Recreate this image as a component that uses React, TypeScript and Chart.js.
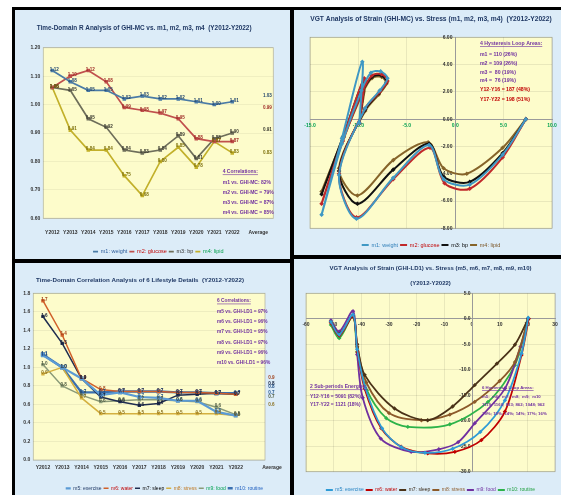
import { useEffect, useRef } from "react";
import { Chart, registerables } from "chart.js";

Chart.register(...registerables);

const FONT = "'Liberation Sans Narrow', 'Liberation Sans', 'DejaVu Sans Condensed', sans-serif";
const PANEL_BG = "#dcecf8";
const PLOT_BG = "#fdfccb";
const PLOT_BORDER = "#b9b9a0";
const TITLE_COLOR = "#1f3864";
const NOTE_PURPLE = "#7030a0";
const NOTE_RED = "#c00000";

// ---------------- Panel 1: Time-Domain R Analysis ----------------
const YEARS = ["Y2012", "Y2013", "Y2014", "Y2015", "Y2016", "Y2017", "Y2018", "Y2019", "Y2020", "Y2021", "Y2022"];
const AVERAGE_LABEL = "Average";
const P1_TITLE = "Time-Domain R Analysis of GHI-MC vs. m1, m2, m3, m4  (Y2012-Y2022)";
const P1_NAMES = ["m1: weight", "m2: glucose", "m3: bp", "m4: lipid"];
const M1_WEIGHT = [1.12, 1.08, 1.05, 1.05, 1.02, 1.03, 1.02, 1.02, 1.01, 1.0, 1.01];
const M2_GLUCOSE = [1.06, 1.1, 1.12, 1.08, 0.99, 0.98, 0.97, 0.95, 0.88, 0.87, 0.87];
const M3_BP = [1.06, 1.05, 0.95, 0.92, 0.84, 0.83, 0.84, 0.89, 0.81, 0.88, 0.9];
const M4_LIPID = [1.06, 0.91, 0.84, 0.84, 0.75, 0.68, 0.8, 0.85, 0.78, 0.87, 0.83];
const P1_AVERAGES = [1.03, 0.99, 0.91, 0.83];
const P1_COLORS = ["#4a7ba6", "#c0504d", "#6e6e5a", "#c2b02a"];
const P1_LABEL_COLORS = ["#24476e", "#9e2a26", "#3a3a30", "#7d700c"];
const P1_LEGEND_TEXT = ["#2e5c9a", "#c00000", "#333333", "#00a04a"];
const P1_NOTES = ["4 Correlations:", "m1 vs. GHI-MC: 82%", "m2 vs. GHI-MC = 79%", "m3 vs. GHI-MC = 87%", "m4 vs. GHI-MC = 85%"];

// ---------------- Panel 2: VGT GHI-MC ----------------
const P2_TITLE = "VGT Analysis of Strain (GHI-MC) vs. Stress (m1, m2, m3, m4)  (Y2012-Y2022)";
const M1_VGT: [number, number][] = [[-9.9, -0.3], [-9.6, 4.2], [-11.7, -1.4], [-13.8, -7.0], [-11.7, -1.8], [-9.7, 2.1], [-8.7, 3.4], [-7.7, 3.5], [-7.0, 3.0], [-7.8, 2.1], [-9.3, 0.8], [-12.0, -4.1], [-10.2, -7.3], [-6.4, -4.3], [-2.7, -1.9], [-1.2, -4.4], [1.5, -4.8], [4.9, -2.6], [7.3, 0.0]];
const M2_VGT: [number, number][] = [[-9.9, -0.3], [-9.4, 3.0], [-11.6, -1.4], [-13.8, -6.2], [-11.6, -1.6], [-9.6, 2.0], [-8.6, 3.2], [-7.6, 3.3], [-7.0, 2.8], [-7.8, 2.0], [-9.3, 0.8], [-12.0, -4.0], [-10.2, -7.2], [-6.4, -4.4], [-2.6, -2.1], [-1.1, -4.7], [1.5, -5.1], [4.9, -2.8], [7.3, 0.0]];
const M3_VGT: [number, number][] = [[-9.9, -0.3], [-9.4, 2.9], [-11.6, -1.3], [-13.8, -5.5], [-11.6, -1.4], [-9.6, 2.0], [-8.6, 3.1], [-7.6, 3.2], [-7.1, 2.7], [-7.9, 1.9], [-9.3, 0.7], [-12.0, -3.8], [-10.1, -6.2], [-6.4, -3.7], [-2.7, -1.8], [-1.2, -4.2], [1.5, -4.6], [4.9, -2.5], [7.3, 0.0]];
const M4_VGT: [number, number][] = [[-9.9, -0.3], [-9.3, 2.8], [-11.5, -1.2], [-13.8, -5.3], [-11.5, -1.3], [-9.5, 2.0], [-8.6, 3.0], [-7.6, 3.1], [-7.1, 2.6], [-7.9, 1.8], [-9.3, 0.6], [-12.0, -3.6], [-10.1, -5.6], [-6.4, -3.0], [-2.8, -1.7], [-1.2, -3.6], [1.2, -4.0], [4.9, -2.1], [7.3, 0.0]];
const P2_COLORS = ["#3f98c4", "#c0282a", "#111111", "#86642a"];
const P2_LEGEND_TEXT = ["#2f7fb8", "#c00000", "#000000", "#7a5424"];
const P2_NOTES = ["4 Hysteresis Loop Areas:", "m1 = 110 (26%)", "m2 = 109 (26%)", "m3 =  80 (19%)", "m4 =  76 (19%)", "Y12-Y16 = 187 (48%)", "Y17-Y22 = 198 (51%)"];

// ---------------- Panel 3: Lifestyle correlation ----------------
const P3_TITLE = "Time-Domain Correlation Analysis of 6 Lifestyle Details  (Y2012-Y2022)";
const P3_NAMES = ["m5: exercise", "m6: water", "m7: sleep", "m8: stress", "m9: food", "m10: routine"];
const M5_EXERCISE = [1.13, 1.0, 0.88, 0.7, 0.73, 0.68, 0.67, 0.64, 0.64, 0.52, 0.48];
const M6_WATER = [1.72, 1.35, 0.88, 0.76, 0.74, 0.74, 0.74, 0.73, 0.73, 0.72, 0.71];
const M7_SLEEP = [1.55, 1.26, 0.88, 0.68, 0.63, 0.59, 0.61, 0.7, 0.71, 0.72, 0.71];
const M8_STRESS = [0.93, 1.0, 0.67, 0.5, 0.5, 0.5, 0.5, 0.5, 0.5, 0.5, 0.48];
const M9_FOOD = [1.03, 0.8, 0.7, 0.63, 0.64, 0.65, 0.65, 0.64, 0.63, 0.57, 0.49];
const M10_ROUTINE = [1.14, 1.0, 0.73, 0.73, 0.74, 0.74, 0.74, 0.73, 0.73, 0.72, 0.72];
const P3_AVERAGES = [0.73, 0.89, 0.82, 0.6, 0.68, 0.79];
const P3_COLORS = ["#5b9bd5", "#d0602a", "#1f2d50", "#d4b040", "#8a9a78", "#3a70b0"];
const P3_WIDTHS = [2.2, 1.5, 1.5, 1.5, 1.5, 2.4];
const P3_LABEL_COLORS = ["#2a5a90", "#a0401a", "#111a33", "#8a7020", "#4d5a40", "#1e4a80"];
const P3_LEGEND_TEXT = ["#1f3864", "#c00000", "#000000", "#c07820", "#00a050", "#2060c0"];
const P3_NOTES = ["6 Correlations:", "m5 vs. GHI-LD1 = 97%", "m6 vs. GHI-LD1 = 96%", "m7 vs. GHI-LD1 = 95%", "m8 vs. GHI-LD1 = 97%", "m9 vs. GHI-LD1 = 96%", "m10 vs. GHI-LD1 = 96%"];

// ---------------- Panel 4: VGT GHI-LD1 ----------------
const P4_TITLE = ["VGT Analysis of Strain (GHI-LD1) vs. Stress (m5, m6, m7, m8, m9, m10)", "(Y2012-Y2022)"];
const M5_VGT: [number, number][] = [[-51, -0.6], [-48, -3.1], [-43, 0.8], [-41.5, -6], [-38.6, -13.5], [-32.5, -21.5], [-25.5, -25.2], [-17, -26.3], [-7, -25.5], [3, -22.2], [11.9, -16], [17.9, -6.8], [20.3, 0.2]];
const M6_VGT: [number, number][] = [[-51, -0.8], [-48, -3.3], [-43, 0.6], [-41.4, -6.5], [-38.8, -13.7], [-32.8, -21.5], [-25.6, -25.1], [-16, -26.4], [-6.2, -26.1], [3.4, -23.8], [11.9, -18.2], [17.9, -7.1], [20.5, 0.0]];
const M7_VGT: [number, number][] = [[-51, -0.6], [-48, -3.0], [-43, 0.5], [-41.5, -5.0], [-38.8, -11.0], [-28, -17.6], [-16, -19.9], [-7, -17.2], [1, -13.0], [9, -8.8], [15.5, -5.1], [20.3, 0.0]];
const M8_VGT: [number, number][] = [[-51, -0.7], [-48, -3.2], [-43, 0.4], [-41.5, -5.5], [-38.2, -12.5], [-30, -18.5], [-18.3, -19.9], [-8, -18.8], [1, -16.3], [10, -12.2], [15.5, -8.5], [20.3, 0.0]];
const M9_VGT: [number, number][] = [[-51, -0.3], [-48, -2.5], [-43, 1.5], [-41.5, -7.0], [-39.5, -15.5], [-33, -23.5], [-22, -26.1], [-12, -25.6], [-5, -24.2], [1, -20.5], [11.9, -13.7], [17.5, -5.5], [20.3, 0.0]];
const M10_VGT: [number, number][] = [[-51, -1.2], [-48, -3.8], [-43, 0.6], [-41.5, -6.5], [-38, -14.0], [-31, -19.5], [-23.2, -21.2], [-8, -20.7], [5.8, -16.3], [15.5, -9.1], [20.3, 0.0]];
const P4_COLORS = ["#2e9bd6", "#c00000", "#4a3218", "#8c5a2a", "#7030a0", "#2db34a"];
const P4_LEGEND_TEXT = ["#1f7fc0", "#c00000", "#3a2a18", "#8c5a2a", "#7030a0", "#20a040"];
const P4_NOTES_LEFT = ["2 Sub-periods Energies:", "Y12-Y16 = 5091 (82%)", "Y17-Y22 = 1121 (18%)"];
const P4_NOTES_RIGHT = ["6 Hysteresis Loop Areas:", "m5;  m6;  m7;  m8;  m9;  m10", "1119; 1160; 833; 862; 1048; 962", "19%; 19%; 14%; 14%; 17%; 16%"];

// ---------------- helpers & plugins ----------------
const tickFont = { family: FONT, size: 5, weight: "bold" as const };

const xyFrom = (values: number[]) => values.map((y, i) => ({ x: i, y }));
const xyPairs = (pairs: [number, number][]) => pairs.map(([x, y]) => ({ x, y }));

const fixX = (h: number) => (s: any) => {
  s.height = h;
  s.paddingLeft = 0;
  s.paddingRight = 0;
};
const fixY = (w: number) => (s: any) => {
  s.width = w;
  s.paddingTop = 0;
  s.paddingBottom = 0;
};

const plotBgPlugin = {
  id: "plotBg",
  beforeDraw(chart: any) {
    const { ctx, chartArea: a } = chart;
    ctx.save();
    ctx.fillStyle = PLOT_BG;
    ctx.fillRect(a.left, a.top, a.right - a.left, a.bottom - a.top);
    ctx.strokeStyle = PLOT_BORDER;
    ctx.lineWidth = 0.8;
    ctx.strokeRect(a.left, a.top, a.right - a.left, a.bottom - a.top);
    ctx.restore();
  },
};

const valueLabelPlugin = {
  id: "valueLabels",
  afterDatasetsDraw(chart: any, _args: any, opts: any) {
    const { ctx } = chart;
    ctx.save();
    ctx.font = `bold ${opts.size}px ${FONT}`;
    ctx.textAlign = "center";
    ctx.textBaseline = "middle";
    chart.data.datasets.forEach((ds: any, i: number) => {
      const meta = chart.getDatasetMeta(i);
      ctx.fillStyle = opts.colors[i];
      meta.data.forEach((pt: any, j: number) => {
        ctx.fillText(Number(ds.data[j].y).toFixed(opts.decimals), pt.x + opts.dx, pt.y + opts.dy);
      });
    });
    const xs = chart.scales.x;
    const ys = chart.scales.y;
    (opts.averages as number[]).forEach((v, i) => {
      ctx.fillStyle = opts.colors[i];
      ctx.fillText(v.toFixed(opts.decimals), xs.getPixelForValue(opts.avgX), ys.getPixelForValue(v));
    });
    ctx.restore();
  },
};

const notesPlugin = {
  id: "notes",
  afterDraw(chart: any, _args: any, opts: any) {
    const { ctx } = chart;
    ctx.save();
    ctx.textBaseline = "middle";
    ctx.textAlign = "left";
    for (const b of opts.blocks) {
      ctx.font = `bold ${b.size}px ${FONT}`;
      b.lines.forEach((text: string, k: number) => {
        const y = b.ys[k];
        ctx.fillStyle = b.colors ? b.colors[k] : NOTE_PURPLE;
        ctx.fillText(text, b.x, y);
        if (k === 0) {
          const w = ctx.measureText(text).width;
          ctx.fillRect(b.x, y + b.size * 0.55, w, 0.6);
        }
      });
    }
    ctx.restore();
  },
};

function legendOptions(textColors: string[], o: any) {
  return {
    position: "bottom",
    align: o.align || "center",
    fullSize: o.fullSize !== undefined ? o.fullSize : true,
    maxHeight: o.maxHeight,
    title: o.spacer ? { display: true, text: "", font: { size: 1 }, padding: { top: o.spacer, bottom: 0 } } : { display: false },
    labels: {
      usePointStyle: true,
      pointStyle: "line",
      pointStyleWidth: o.lineW || 5,
      padding: o.padding,
      font: { family: FONT, size: o.size || 5.5, weight: "normal" },
      generateLabels: (chart: any) => {
        const items = (Chart.defaults.plugins.legend.labels as any).generateLabels(chart);
        items.forEach((it: any, i: number) => {
          it.fontColor = textColors[i];
          it.pointStyle = "line";
        });
        return items;
      },
    },
  };
}

const yearTicks = (avgX: number) => YEARS.map((_, i) => ({ value: i })).concat([{ value: avgX }]);
const yearLabel = (avgX: number) => (v: any) => {
  const n = Number(v);
  if (Math.abs(n - avgX) < 1e-6) return AVERAGE_LABEL;
  return YEARS[Math.round(n)] ?? "";
};

// ---------------- configs ----------------
const P1_AVG_X = 11.45;
function panel1Config(): any {
  const series = [M1_WEIGHT, M2_GLUCOSE, M3_BP, M4_LIPID];
  return {
    type: "line",
    data: {
      datasets: series.map((vals, i) => ({
        label: P1_NAMES[i],
        data: xyFrom(vals),
        borderColor: P1_COLORS[i],
        backgroundColor: P1_COLORS[i],
        borderWidth: 1.7,
        pointRadius: 1.3,
        pointStyle: "rect",
        tension: 0,
      })),
    },
    options: {
      animation: false,
      responsive: false,
      events: [],
      layout: { padding: { left: 0, right: 16.7, top: 0, bottom: 0 } },
      scales: {
        x: {
          type: "linear",
          min: -0.5,
          max: 12.28,
          grid: { display: false, drawTicks: false },
          border: { display: false },
          ticks: { autoSkip: false, maxRotation: 0, padding: 11.7, font: tickFont, color: "#333", callback: yearLabel(P1_AVG_X) },
          afterBuildTicks: (s: any) => {
            s.ticks = yearTicks(P1_AVG_X);
          },
          afterFit: fixX(28.65),
        },
        y: {
          type: "linear",
          min: 0.6,
          max: 1.2,
          ticks: { stepSize: 0.1, padding: 3, font: tickFont, color: "#333", callback: (v: any) => Number(v).toFixed(2) },
          grid: { color: "rgba(0,0,0,0.05)", drawTicks: false },
          border: { display: false },
          afterFit: fixY(28.3),
        },
      },
      plugins: {
        title: { display: true, text: P1_TITLE, color: TITLE_COLOR, font: { family: FONT, size: 6.4, weight: "bold", lineHeight: 1.2 }, padding: { top: 14.46, bottom: 15.56 } },
        legend: legendOptions(P1_LEGEND_TEXT, { maxHeight: 12.05, padding: 2, fullSize: false, size: 5.5 }),
        tooltip: { enabled: false },
        valueLabels: { size: 4.6, decimals: 2, dx: 2, dy: -1, colors: P1_LABEL_COLORS, averages: P1_AVERAGES, avgX: 11.95 },
        notes: { blocks: [{ x: 207.7, ys: [161.7, 172.7, 182.7, 192.7, 202.7], size: 5, lines: P1_NOTES }] },
      },
    },
    plugins: [plotBgPlugin, valueLabelPlugin, notesPlugin],
  };
}

function vgtDatasets(list: [number, number][][], names: string[], colors: string[], width: number, tension: number) {
  return list.map((pairs, i) => ({
    label: names[i],
    data: xyPairs(pairs),
    borderColor: colors[i],
    backgroundColor: colors[i],
    borderWidth: width,
    pointRadius: 0.9,
    pointStyle: "rectRot",
    tension,
  }));
}

function panel2Config(): any {
  return {
    type: "line",
    data: { datasets: vgtDatasets([M1_VGT, M2_VGT, M3_VGT, M4_VGT], P1_NAMES, P2_COLORS, 2, 0.3) },
    options: {
      animation: false,
      responsive: false,
      events: [],
      layout: { padding: { left: 16, right: 9, top: 0, bottom: 0 } },
      scales: {
        x: {
          type: "linear",
          min: -15,
          max: 10,
          position: { y: 0 },
          ticks: { stepSize: 5, padding: 3, font: tickFont, color: "#00a050", callback: (v: any) => Number(v).toFixed(1) },
          grid: { color: "rgba(0,0,0,0.08)", drawTicks: false },
          border: { color: "#9a9a9a" },
          afterFit: fixX(0),
        },
        y: {
          type: "linear",
          min: -8,
          max: 6,
          position: { x: 0 },
          ticks: { stepSize: 2, font: tickFont, color: "#333", callback: (v: any) => Number(v).toFixed(2) + "  " },
          grid: { color: "rgba(0,0,0,0.08)", drawTicks: false },
          border: { color: "#9a9a9a" },
          afterFit: fixY(0),
        },
      },
      plugins: {
        title: { display: true, text: P2_TITLE, color: TITLE_COLOR, font: { family: FONT, size: 6.7, weight: "bold", lineHeight: 1.2 }, padding: { top: 5.28, bottom: 13.98 } },
        legend: legendOptions(P2_LEGEND_TEXT, { maxHeight: 26.7, padding: 2, spacer: 10.75, lineW: 7, size: 5.5 }),
        tooltip: { enabled: false },
        notes: {
          blocks: [
            {
              x: 186,
              ys: [33.3, 45, 54, 62.7, 71, 80, 89.3],
              size: 5.2,
              lines: P2_NOTES,
              colors: [NOTE_PURPLE, NOTE_PURPLE, NOTE_PURPLE, NOTE_PURPLE, NOTE_PURPLE, NOTE_RED, NOTE_RED],
            },
          ],
        },
      },
    },
    plugins: [plotBgPlugin, notesPlugin],
  };
}

const P3_AVG_X = 11.88;
function panel3Config(): any {
  const series = [M5_EXERCISE, M6_WATER, M7_SLEEP, M8_STRESS, M9_FOOD, M10_ROUTINE];
  return {
    type: "line",
    data: {
      datasets: series.map((vals, i) => ({
        label: P3_NAMES[i],
        data: xyFrom(vals),
        borderColor: P3_COLORS[i],
        backgroundColor: P3_COLORS[i],
        borderWidth: P3_WIDTHS[i],
        pointRadius: 1.3,
        pointStyle: "rect",
        tension: 0,
      })),
    },
    options: {
      animation: false,
      responsive: false,
      events: [],
      layout: { padding: { left: 0, right: 25, top: 0, bottom: 0 } },
      scales: {
        x: {
          type: "linear",
          min: -0.5,
          max: 11.52,
          grid: { display: false, drawTicks: false },
          border: { display: false },
          ticks: { autoSkip: false, maxRotation: 0, padding: 5, font: tickFont, color: "#333", callback: yearLabel(P3_AVG_X) },
          afterBuildTicks: (s: any) => {
            s.ticks = yearTicks(P3_AVG_X);
          },
          afterFit: fixX(23.8),
        },
        y: {
          type: "linear",
          min: 0,
          max: 1.8,
          ticks: { stepSize: 0.2, padding: 3, font: tickFont, color: "#333", callback: (v: any) => Number(v).toFixed(1) },
          grid: { color: "rgba(0,0,0,0.06)", drawTicks: false },
          border: { display: false },
          afterFit: fixY(18.3),
        },
      },
      plugins: {
        title: { display: true, text: P3_TITLE, color: TITLE_COLOR, font: { family: FONT, size: 6.2, weight: "bold", lineHeight: 1.2 }, padding: { top: 13.28, bottom: 9.58 } },
        legend: legendOptions(P3_LEGEND_TEXT, { maxHeight: 11.2, padding: 2, align: "end", size: 5 }),
        tooltip: { enabled: false },
        valueLabels: { size: 4.6, decimals: 1, dx: 1.5, dy: -1, colors: P3_LABEL_COLORS, averages: P3_AVERAGES, avgX: 11.85 },
        notes: { blocks: [{ x: 202, ys: [38, 48.3, 58.6, 68.9, 79.2, 89.5, 99.8], size: 4.8, lines: P3_NOTES }] },
      },
    },
    plugins: [plotBgPlugin, valueLabelPlugin, notesPlugin],
  };
}

function panel4Config(): any {
  return {
    type: "line",
    data: { datasets: vgtDatasets([M5_VGT, M6_VGT, M7_VGT, M8_VGT, M9_VGT, M10_VGT], P3_NAMES, P4_COLORS, 1.8, 0.3) },
    options: {
      animation: false,
      responsive: false,
      events: [],
      layout: { padding: { left: 12, right: 6, top: 0, bottom: 0 } },
      scales: {
        x: {
          type: "linear",
          min: -60,
          max: 30,
          position: { y: 0 },
          ticks: { stepSize: 10, padding: 3, font: tickFont, color: "#333", callback: (v: any) => String(v) },
          grid: { color: "rgba(0,0,0,0.08)", drawTicks: false },
          border: { color: "#9a9a9a" },
          afterFit: fixX(0),
        },
        y: {
          type: "linear",
          min: -30,
          max: 5,
          position: { x: 0 },
          ticks: { stepSize: 5, font: tickFont, color: "#333", callback: (v: any) => Number(v).toFixed(1) + " " },
          grid: { color: "rgba(0,0,0,0.08)", drawTicks: false },
          border: { color: "#9a9a9a" },
          afterFit: fixY(0),
        },
      },
      plugins: {
        title: { display: true, text: P4_TITLE, color: TITLE_COLOR, font: { family: FONT, size: 6.0, weight: "bold", lineHeight: 15 / 6 }, padding: { top: 1.8, bottom: 2.5 } },
        legend: legendOptions(P4_LEGEND_TEXT, { maxHeight: 23.3, padding: 2, spacer: 12.6, lineW: 7, size: 5 }),
        tooltip: { enabled: false },
        notes: {
          blocks: [
            { x: 16, ys: [127.7, 137.7, 146], size: 5, lines: P4_NOTES_LEFT },
            { x: 188, ys: [128.7, 137.7, 146, 154.7], size: 4.3, lines: P4_NOTES_RIGHT },
          ],
        },
      },
    },
    plugins: [plotBgPlugin, notesPlugin],
  };
}

// ---------------- components ----------------
function ChartPanel(props: { left: number; top: number; width: number; height: number; config: () => any }) {
  const { left, top, width, height, config } = props;
  const ref = useRef<HTMLCanvasElement | null>(null);
  useEffect(() => {
    if (!ref.current) return;
    const chart = new Chart(ref.current, config());
    return () => chart.destroy();
  }, []);
  return (
    <div style={{ position: "absolute", left, top, width, height, background: PANEL_BG, overflow: "hidden" }}>
      <canvas ref={ref} width={width} height={height} style={{ display: "block", width, height }} />
    </div>
  );
}

export default function App() {
  return (
    <div style={{ position: "fixed", left: 0, top: 0, width: 561, height: 495, background: "#ffffff", overflow: "hidden" }}>
      <div style={{ position: "absolute", left: 12, top: 7, width: 549, height: 488, background: "#000000" }} />
      <ChartPanel left={15} top={10} width={275} height={249} config={panel1Config} />
      <ChartPanel left={294} top={10} width={267} height={245} config={panel2Config} />
      <ChartPanel left={15} top={263} width={275} height={232} config={panel3Config} />
      <ChartPanel left={294} top={259} width={267} height={236} config={panel4Config} />
    </div>
  );
}
